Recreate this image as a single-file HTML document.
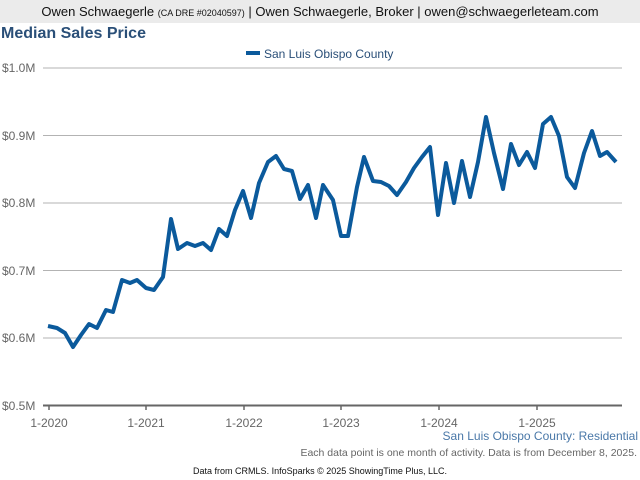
<!DOCTYPE html>
<html><head><style>
body{margin:0;width:640px;height:480px;background:#fff;font-family:"Liberation Sans",sans-serif;overflow:hidden;position:relative}
.hdr{position:absolute;left:0;top:0;width:640px;height:23px;background:#ebebeb;text-align:center;font-size:13px;line-height:23px;color:#111}
.hdr small{font-size:9px}
.t{position:absolute;left:1px;top:25px;font-size:16px;font-weight:bold;color:#2a4f78}
</style></head><body>
<div class="hdr">Owen Schwaegerle <small>(CA DRE #02040597)</small> | Owen Schwaegerle, Broker | owen@schwaegerleteam.com</div>
<div class="t">Median Sales Price</div>
<svg width="640" height="480" style="position:absolute;left:0;top:0" font-family="Liberation Sans, sans-serif">
<rect x="246" y="51" width="14" height="4" fill="#0b5a9c"/>
<text x="264" y="58" font-size="12" fill="#2a4f78">San Luis Obispo County</text>
<g stroke="#b3b3b3" stroke-width="1">
<line x1="43" y1="68" x2="622" y2="68"/><line x1="43" y1="135.5" x2="622" y2="135.5"/><line x1="43" y1="203" x2="622" y2="203"/><line x1="43" y1="270.5" x2="622" y2="270.5"/><line x1="43" y1="338" x2="622" y2="338"/>
</g>
<line x1="43" y1="405.5" x2="622" y2="405.5" stroke="#666" stroke-width="2"/>
<g stroke="#666" stroke-width="1.5">
<line x1="49" y1="405" x2="49" y2="410"/><line x1="146" y1="405" x2="146" y2="410"/><line x1="244" y1="405" x2="244" y2="410"/><line x1="341" y1="405" x2="341" y2="410"/><line x1="439" y1="405" x2="439" y2="410"/><line x1="537" y1="405" x2="537" y2="410"/>
</g>
<g font-size="12" fill="#666">
<text x="2" y="72">$1.0M</text><text x="2" y="140">$0.9M</text><text x="2" y="207">$0.8M</text><text x="2" y="275">$0.7M</text><text x="2" y="342">$0.6M</text><text x="2" y="410">$0.5M</text>
<g text-anchor="middle"><text x="49" y="427">1-2020</text><text x="146" y="427">1-2021</text><text x="244" y="427">1-2022</text><text x="341" y="427">1-2023</text><text x="439" y="427">1-2024</text><text x="537" y="427">1-2025</text></g>
</g>
<polyline fill="none" stroke="#0b5a9c" stroke-width="4" stroke-linejoin="round" points="48,326 57,328 65,333 73,347 81,335 89,324 97,328 106,310 113,312 122,280 130,283 137,280 146,288 154,290 163,277 171,219 178,249 187,243 195,246 203,243 211,250 219,229 227,236 235,210 243,191 251,218 259,183 268,162 276,156 284,169 292,171 300,199 308,185 316,218 323,185 333,200 341,236 348,236 357,187 364,157 373,181 381,182 389,186 397,195 406,182 414,168 422,157 430,147 438,215 446,163 454,203 462,161 470,197 478,162 486,117 494,153 503,189 511,144 519,165 527,152 535,168 543,124 551,117 559,136 567,177 575,188 584,153 592,131 600,156 607,152 616,162"/>
<text x="638" y="440" font-size="12" fill="#4a78a8" text-anchor="end">San Luis Obispo County: Residential</text>
<text x="637" y="456" font-size="10.5" fill="#666" text-anchor="end">Each data point is one month of activity. Data is from December 8, 2025.</text>
<text x="320" y="474" font-size="9" fill="#111" text-anchor="middle">Data from CRMLS. InfoSparks © 2025 ShowingTime Plus, LLC.</text>
</svg>
</body></html>
